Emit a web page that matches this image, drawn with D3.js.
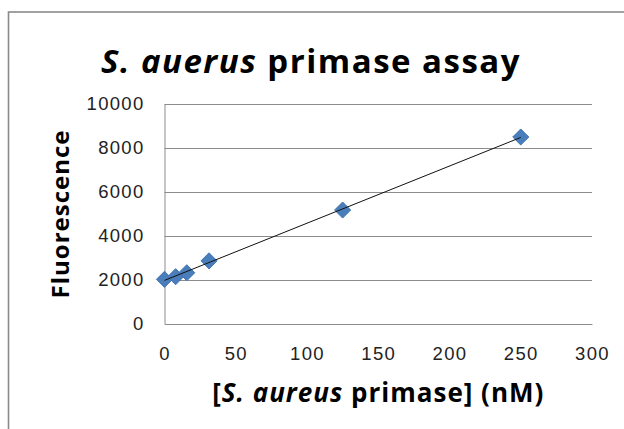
<!DOCTYPE html>
<html>
<head>
<meta charset="utf-8">
<script src="https://cdn.jsdelivr.net/npm/d3@7"></script>
<style>
  body { margin: 0; background: #fff; }
  svg { display: block; font-family: "Open Sans", sans-serif; }
  .tick text { fill: #222; }
</style>
</head>
<body>
<div id="chart"></div>
<script>

// data
var concentrations = [0, 7.8125, 15.625, 31.25, 125, 250]   // nM
var fluorescence   = [2030, 2150, 2330, 2870, 5180, 8500]
var xTicks = [0, 50, 100, 150, 200, 250, 300]
var yTicks = [0, 2000, 4000, 6000, 8000, 10000]

var canvas = { width: 624, height: 429 }
var margin = { top: 104, right: 32, bottom: 105, left: 164.5 }
var width = canvas.width - margin.left - margin.right
var height = canvas.height - margin.top - margin.bottom

var svg = d3.select("#chart").append("svg")
  .attr("width", canvas.width)
  .attr("height", canvas.height)

// outer chart frame (runs off the right and bottom edges)
svg.append("rect")
  .attr("x", 8.5).attr("y", 12)
  .attr("width", 700).attr("height", 500)
  .attr("fill", "#fff")
  .attr("stroke", "#8a8a8a")
  .attr("stroke-width", 1.6)

var g = svg.append("g")
  .attr("transform", "translate(" + margin.left + "," + margin.top + ")")

var x = d3.scaleLinear().domain([0, 300]).range([0, width])
var y = d3.scaleLinear().domain([0, 10000]).range([height, 0])

// gridlines
g.append("g")
  .selectAll("line")
  .data(yTicks.filter(function(d) { return d > 0 }))
  .enter().append("line")
    .attr("x1", 0).attr("x2", width)
    .attr("y1", function(d) { return Math.round(y(d)) + 0.5 })
    .attr("y2", function(d) { return Math.round(y(d)) + 0.5 })
    .attr("stroke", "#8c8c8c")

// axes
var yAxis = g.append("g")
  .call(d3.axisLeft(y).tickValues(yTicks).tickSize(0).tickPadding(20).tickFormat(d3.format("d")))
yAxis.select(".domain").attr("stroke", "#8c8c8c")
yAxis.selectAll("text").attr("font-size", 18.5).attr("letter-spacing", 1.3)

var xAxis = g.append("g")
  .attr("transform", "translate(0," + height + ")")
  .call(d3.axisBottom(x).tickValues(xTicks).tickSize(0).tickPadding(23))
xAxis.select(".domain").attr("stroke", "#8c8c8c")
xAxis.selectAll("text").attr("font-size", 18.5).attr("letter-spacing", 1.3)

// linear trendline (least squares)
var mx = d3.mean(concentrations), my = d3.mean(fluorescence)
var sxy = d3.sum(concentrations, function(d, i) { return (d - mx) * (fluorescence[i] - my) })
var sxx = d3.sum(concentrations, function(d) { return (d - mx) * (d - mx) })
var slope = sxy / sxx, intercept = my - slope * mx
var xr = d3.extent(concentrations)

// markers
var points = concentrations.map(function(c, i) { return { c: c, f: fluorescence[i] } })
g.selectAll(".pt")
  .data(points)
  .enter().append("path")
    .attr("class", "pt")
    .attr("d", d3.symbol().type(d3.symbolDiamond2).size(165))
    .attr("transform", function(d) { return "translate(" + x(d.c) + "," + y(d.f) + ")" })
    .attr("fill", "#4a7ebb")
    .attr("stroke", "#4375b3")
    .attr("stroke-width", 1)

g.append("line")
  .attr("x1", x(xr[0])).attr("y1", y(intercept + slope * xr[0]))
  .attr("x2", x(xr[1])).attr("y2", y(intercept + slope * xr[1]))
  .attr("stroke", "#111")
  .attr("stroke-width", 1)

// title
var title = svg.append("text")
  .attr("x", 311).attr("y", 73)
  .attr("text-anchor", "middle")
  .attr("font-size", 33)
  .attr("letter-spacing", 1.5)
  .attr("font-weight", "bold")
title.append("tspan").attr("font-style", "italic").text("S. auerus")
title.append("tspan").text(" primase assay")

// axis titles
var xLabel = svg.append("text")
  .attr("x", margin.left + width / 2).attr("y", 402)
  .attr("text-anchor", "middle")
  .attr("font-size", 26)
  .attr("letter-spacing", 1)
  .attr("font-weight", "bold")
xLabel.append("tspan").text("[")
xLabel.append("tspan").attr("font-style", "italic").text("S. aureus")
xLabel.append("tspan").text(" primase] (nM)")

svg.append("text")
  .attr("transform", "translate(69," + (margin.top + height / 2) + ") rotate(-90)")
  .attr("text-anchor", "middle")
  .attr("font-size", 24)
  .attr("letter-spacing", 1)
  .attr("font-weight", "bold")
  .text("Fluorescence")

</script>
</body>
</html>
